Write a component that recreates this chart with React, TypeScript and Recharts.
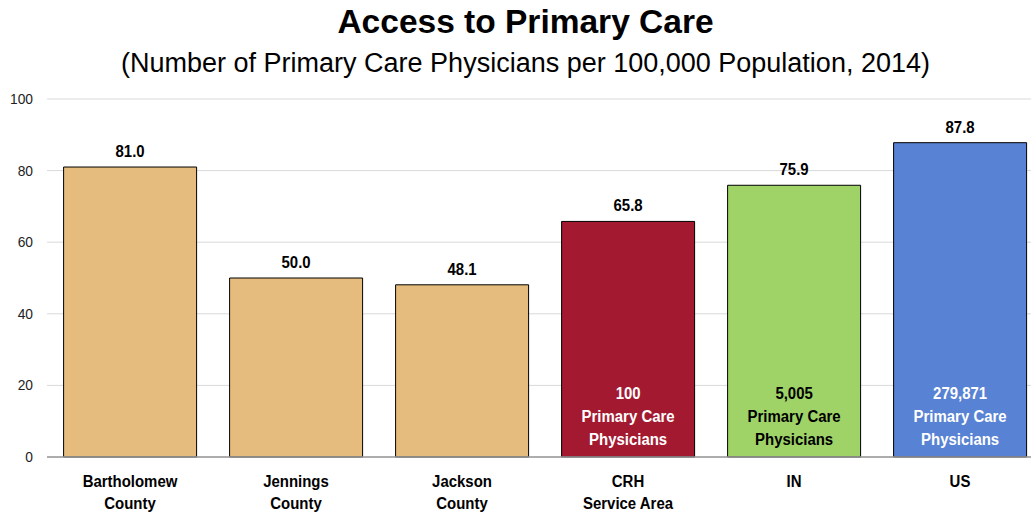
import React from "react";
import { BarChart, Bar, XAxis, YAxis, CartesianGrid, LabelList, Cell } from "recharts";

const categories = ["Bartholomew\nCounty", "Jennings\nCounty", "Jackson\nCounty", "CRH\nService Area", "IN", "US"];
const values = [81.0, 50.0, 48.1, 65.8, 75.9, 87.8];
const physicianCounts = ["", "", "", "100", "5,005", "279,871"];
const barColors = ["#E5BC7E", "#E5BC7E", "#E5BC7E", "#A31A30", "#9FD367", "#5882D3"];
const innerTextColors = ["#fff", "#fff", "#fff", "#fff", "#000", "#fff"];
const yTicks = [0, 20, 40, 60, 80, 100];

const data = categories.map((c, i) => ({
  name: c,
  value: values[i],
  count: physicianCounts[i],
  idx: i,
}));

const FONT = "'Liberation Sans', Arial, sans-serif";
const SX = 0.88;

const NarrowText = ({ x, y, fill, children }: any) => (
  <g transform={`translate(${x},${y}) scale(${SX},1)`}>
    <text x={0} y={0} textAnchor="middle" fontFamily={FONT} fontWeight="bold" fontSize={17} fill={fill}>
      {children}
    </text>
  </g>
);

const CategoryTick = (props: any) => {
  const { x, y, payload } = props;
  const lines = String(payload.value).split("\n");
  return (
    <g>
      {lines.map((l: string, i: number) => (
        <NarrowText key={i} x={x} y={y + 30 + i * 22} fill="#000">
          {l}
        </NarrowText>
      ))}
    </g>
  );
};

const InnerLabel = (props: any) => {
  const { x, y, width, height, index } = props;
  const count = physicianCounts[index];
  if (!count) return null;
  const cx = x + width / 2;
  const bottom = y + height;
  const fill = innerTextColors[index];
  const lines = [count, "Primary Care", "Physicians"];
  return (
    <g>
      {lines.map((l, i) => (
        <NarrowText key={i} x={cx} y={bottom - 58 + i * 23} fill={fill}>
          {l}
        </NarrowText>
      ))}
    </g>
  );
};

const TopLabel = (props: any) => {
  const { x, y, width, value } = props;
  return (
    <NarrowText x={x + width / 2} y={y - 10} fill="#000">
      {Number(value).toFixed(1)}
    </NarrowText>
  );
};

const YTick = (props: any) => {
  const { x, y, payload } = props;
  return (
    <g transform={`translate(${x},${y}) scale(0.92,1)`}>
      <text x={0} y={0} dy={5} textAnchor="end" fontFamily={FONT} fontSize={15} fill="#222">
        {payload.value}
      </text>
    </g>
  );
};

export default function App() {
  return (
    <div style={{ position: "absolute", left: 0, top: 0, width: 1031, height: 513, overflow: "hidden", background: "#fff" }}>
      <div style={{ position: "absolute", left: 10, top: 0, width: 1031, textAlign: "center", fontFamily: FONT }}>
        <div style={{ position: "absolute", top: 3, width: 1031, fontSize: 33.5, fontWeight: "bold", color: "#000" }}>Access to Primary Care</div>
        <div style={{ position: "absolute", top: 48, width: 1031, fontSize: 27, color: "#000" }}>(Number of Primary Care Physicians per 100,000 Population, 2014)</div>
      </div>
      <div style={{ position: "absolute", left: 0, top: 0 }}>
        <BarChart width={1043} height={513} data={data} margin={{ top: 99, right: 0, bottom: 0, left: 0 }} barCategoryGap="10%">
          <CartesianGrid vertical={false} stroke="#d9d9d9" />
          <XAxis dataKey="name" tick={<CategoryTick />} tickLine={false} tickSize={0} tickMargin={0} axisLine={{ stroke: "#999", strokeWidth: 1.5 }} height={56} interval={0} />
          <YAxis domain={[0, 100]} ticks={yTicks} width={47} tickLine={false} axisLine={false} tickSize={0} tickMargin={14} tick={<YTick />} />
          <Bar dataKey="value" isAnimationActive={false} stroke="#000" strokeWidth={1}>
            {data.map((d, i) => (
              <Cell key={i} fill={barColors[i]} />
            ))}
            <LabelList dataKey="value" content={<TopLabel />} />
            <LabelList dataKey="count" content={<InnerLabel />} />
          </Bar>
        </BarChart>
      </div>
    </div>
  );
}
